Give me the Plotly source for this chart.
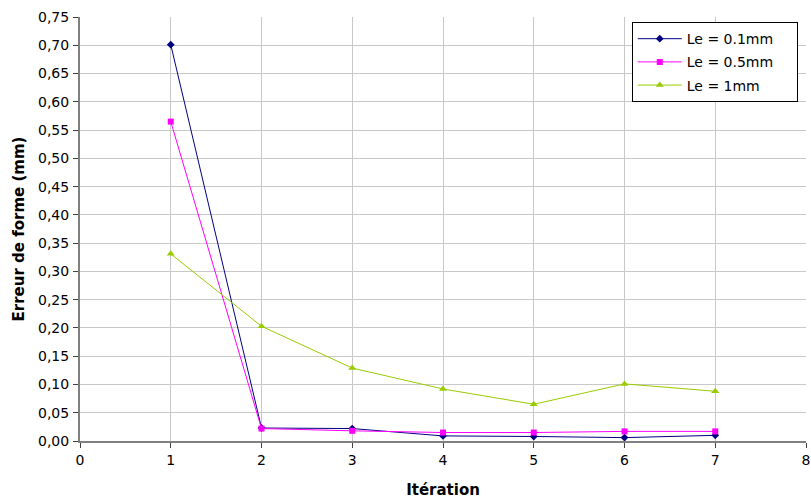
import plotly.graph_objects as go

iterations = [1, 2, 3, 4, 5, 6, 7]
le_01 = [0.701, 0.023, 0.022, 0.009, 0.008, 0.006, 0.010]
le_05 = [0.565, 0.022, 0.018, 0.015, 0.015, 0.017, 0.017]
le_1 = [0.331, 0.203, 0.129, 0.092, 0.065, 0.101, 0.088]

names = ["Le = 0.1mm", "Le = 0.5mm", "Le = 1mm"]
colors = ["#000080", "#FF00FF", "#99CC00"]
symbols = ["diamond", "square", "triangle-up"]
sizes = [6, 6, 7]

FONT = "DejaVu Sans, Liberation Sans, Arial, sans-serif"
PAD = "\u00a0" * 4

fig = go.Figure()
for i, (ys, n, c, s, sz) in enumerate(zip([le_01, le_05, le_1], names, colors, symbols, sizes)):
    fig.add_trace(go.Scatter(x=iterations, y=ys, name=n + PAD, mode="lines+markers",
                             legendgroup=f"g{i}",
                             line=dict(color=c, width=1),
                             marker=dict(symbol=s, size=sz, color=c)))

fig.update_layout(
    width=811, height=502,
    margin=dict(l=80, r=5, t=17, b=61),
    paper_bgcolor="white", plot_bgcolor="white",
    font=dict(family=FONT, size=14, color="black"),
    showlegend=True,
    separators=", ",
    legend=dict(x=0.760, y=0.988, xanchor="left", yanchor="top",
                bordercolor="black", borderwidth=1, bgcolor="white",
                font=dict(size=14, family=FONT), itemwidth=44,
                traceorder="grouped", tracegroupgap=2),
)
fig.update_xaxes(range=[0, 8], dtick=1, tick0=0, showgrid=True, gridcolor="#C8C8C8",
                 showline=True, linecolor="#808080", linewidth=2, ticks="outside",
                 tickcolor="#404040", ticklen=5, zeroline=False, automargin=False,
                 ticklabeloverflow="allow",
                 title=dict(text="<b>Itération</b>", standoff=18,
                            font=dict(size=15, family=FONT)))
fig.update_yaxes(range=[0, 0.75], dtick=0.05, tick0=0, showgrid=True, gridcolor="#C8C8C8",
                 showline=True, linecolor="#808080", linewidth=2, ticks="outside",
                 tickcolor="#404040", ticklen=5, zeroline=False, automargin=False,
                 tickformat=".2f", ticklabelstandoff=1,
                 title=dict(text="<b>Erreur de forme (mm)</b>", standoff=10,
                            font=dict(size=15, family=FONT)))
fig.write_html("out.html",
               config={"displayModeBar": False},
               post_script="document.body.style.margin='0';document.body.style.overflow='hidden';")
